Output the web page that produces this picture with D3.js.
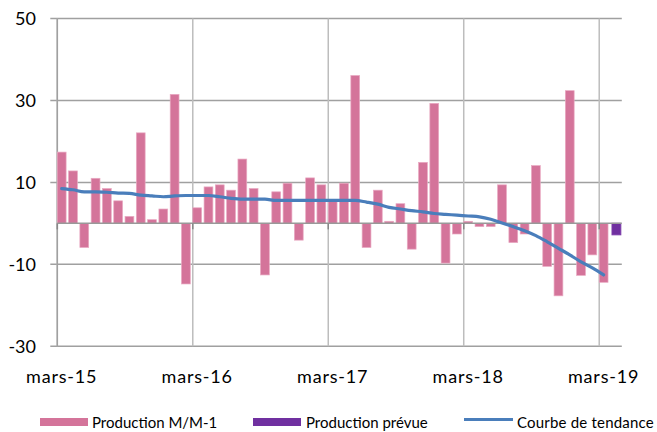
<!DOCTYPE html>
<html>
<head>
<meta charset="utf-8">
<script src="https://cdn.jsdelivr.net/npm/d3@7/dist/d3.min.js"></script>
<style>
  html, body { margin: 0; padding: 0; background: #fff; }
  svg { display: block; font-family: Lato, "Liberation Sans", sans-serif; }
</style>
</head>
<body>
<div id="chart"></div>
<script>
// months shown on the axis (mars-15 .. avr-19)
const months = [
  "mars-15","avr.-15","mai-15","juin-15","juil.-15","août-15","sept.-15","oct.-15","nov.-15","déc.-15","janv.-16","févr.-16",
  "mars-16","avr.-16","mai-16","juin-16","juil.-16","août-16","sept.-16","oct.-16","nov.-16","déc.-16","janv.-17","févr.-17",
  "mars-17","avr.-17","mai-17","juin-17","juil.-17","août-17","sept.-17","oct.-17","nov.-17","déc.-17","janv.-18","févr.-18",
  "mars-18","avr.-18","mai-18","juin-18","juil.-18","août-18","sept.-18","oct.-18","nov.-18","déc.-18","janv.-19","févr.-19",
  "mars-19","avr.-19"
];
const labelled = ["mars-15","mars-16","mars-17","mars-18","mars-19"];

// Production M/M-1 (mars-15 .. mars-19)
const production = [
  17.4, 12.8, -5.9, 11.0, 8.5, 5.5, 1.7, 22.1, 0.9, 3.5, 31.5, -14.8,
  3.8, 8.9, 9.4, 8.1, 15.7, 8.5, -12.6, 7.7, 9.8, -4.1, 11.1, 9.4,
  5.8, 9.8, 36.1, -5.9, 8.1, 0.5, 4.8, -6.3, 14.9, 29.3, -9.7, -2.6,
  0.5, -0.8, -0.8, 9.4, -4.7, -2.6, 14.1, -10.5, -17.7, 32.4, -12.7, -7.7,
  -14.4
];
// Production prévue
const prevueMonths = ["avr.-19"];
const prevue = [-2.8];
// Courbe de tendance
const tendance = [
  8.5, 8.2, 7.7, 7.7, 7.6, 7.4, 7.3, 6.9, 6.7, 6.5, 6.7, 6.8,
  6.8, 6.8, 6.5, 6.1, 5.9, 5.9, 5.9, 5.6, 5.6, 5.6, 5.6, 5.6,
  5.6, 5.6, 5.6, 5.2, 4.7, 3.9, 3.5, 3.1, 2.8, 2.4, 2.2, 2.0,
  1.8, 1.6, 1.0, 0.1, -0.8, -1.8, -3.0, -4.5, -6.1, -7.7, -9.4, -10.9,
  -12.6
];
const yTicks = [50, 30, 10, -10, -30];

const W = 657, H = 432;
const plot = {left: 57.3, right: 621.8, top: 18.6, bottom: 346.2};

const svg = d3.select('#chart').append('svg')
    .attr('width', W)
    .attr('height', H);

const x = d3.scaleBand()
    .domain(months)
    .range([plot.left, plot.right])
    .paddingInner(0.22)
    .paddingOuter(0.11)
    .align(0);

const y = d3.scaleLinear()
    .domain([-30, 50])
    .range([plot.bottom, plot.top]);

// horizontal grid + left ticks
svg.append('g')
    .selectAll('line')
    .data(yTicks)
    .join('line')
    .attr('x1', plot.left - 7).attr('x2', plot.right)
    .attr('y1', d => y(d)).attr('y2', d => y(d))
    .attr('stroke', '#a0a0a0')
    .attr('stroke-width', 1.5);

// vertical grid at each mars
svg.append('g')
    .selectAll('line')
    .data(labelled)
    .join('line')
    .attr('x1', d => x(d)).attr('x2', d => x(d))
    .attr('y1', plot.top).attr('y2', plot.bottom)
    .attr('stroke', '#bdbdbd')
    .attr('stroke-width', 1.5);

// y axis line
svg.append('line')
    .attr('x1', plot.left).attr('x2', plot.left)
    .attr('y1', plot.top).attr('y2', plot.bottom)
    .attr('stroke', '#a0a0a0')
    .attr('stroke-width', 1.5);

// bars
svg.append('g')
    .selectAll('rect')
    .data(production)
    .join('rect')
    .attr('x', (d, i) => x(months[i]))
    .attr('width', x.bandwidth())
    .attr('y', d => y(Math.max(0, d)))
    .attr('height', d => Math.abs(y(d) - y(0)))
    .attr('fill', '#d4749a')
    .attr('stroke', '#e9a9c2')
    .attr('stroke-width', 0.7);

svg.append('g')
    .selectAll('rect')
    .data(prevue)
    .join('rect')
    .attr('x', (d, i) => x(prevueMonths[i]) + 1.5)
    .attr('width', x.bandwidth())
    .attr('y', d => y(Math.max(0, d)))
    .attr('height', d => Math.abs(y(d) - y(0)))
    .attr('fill', '#7030a0')
    .attr('stroke', '#7a3aa8')
    .attr('stroke-width', 1);

// zero axis
svg.append('line')
    .attr('x1', plot.left).attr('x2', plot.right)
    .attr('y1', y(0)).attr('y2', y(0))
    .attr('stroke', '#999')
    .attr('stroke-width', 1.5);
svg.append('g')
    .selectAll('line')
    .data(labelled)
    .join('line')
    .attr('x1', d => x(d)).attr('x2', d => x(d))
    .attr('y1', y(0)).attr('y2', y(0) + 6)
    .attr('stroke', '#888')
    .attr('stroke-width', 1.5);

// trend line
const line = d3.line()
    .x((d, i) => x(months[i]) + x.bandwidth() / 2)
    .y(d => y(d))
    .curve(d3.curveMonotoneX);

svg.append('path')
    .datum(tendance)
    .attr('d', line)
    .attr('fill', 'none')
    .attr('stroke', '#4a7ebb')
    .attr('stroke-width', 3.2)
    .attr('stroke-linecap', 'round');

// y labels
svg.append('g')
    .selectAll('text')
    .data(yTicks)
    .join('text')
    .attr('x', 36)
    .attr('y', d => y(d))
    .attr('dy', '0.35em')
    .attr('text-anchor', 'end')
    .attr('font-size', 18)
    .attr('fill', '#000')
    .text(d => d);

// x labels
svg.append('g')
    .selectAll('text')
    .data(labelled)
    .join('text')
    .attr('x', d => x(d) + x.bandwidth() / 2)
    .attr('y', 383)
    .attr('text-anchor', 'middle')
    .attr('font-size', 18)
    .attr('letter-spacing', 0.8)
    .attr('fill', '#000')
    .text(d => d);

// legend
const legend = svg.append('g').attr('font-size', 15).attr('fill', '#000');
legend.append('rect').attr('x', 40).attr('y', 418).attr('width', 48).attr('height', 8).attr('fill', '#d4749a');
legend.append('text').attr('x', 92).attr('y', 428).text('Production M/M-1');
legend.append('rect').attr('x', 253).attr('y', 418).attr('width', 48).attr('height', 8).attr('fill', '#7030a0');
legend.append('text').attr('x', 306).attr('y', 428).text('Production prévue');
legend.append('line').attr('x1', 464).attr('x2', 513).attr('y1', 419.5).attr('y2', 419.5)
    .attr('stroke', '#4a7ebb').attr('stroke-width', 3);
legend.append('text').attr('x', 517).attr('y', 428).attr('letter-spacing', 0.2).text('Courbe de tendance');
</script>
</body>
</html>
